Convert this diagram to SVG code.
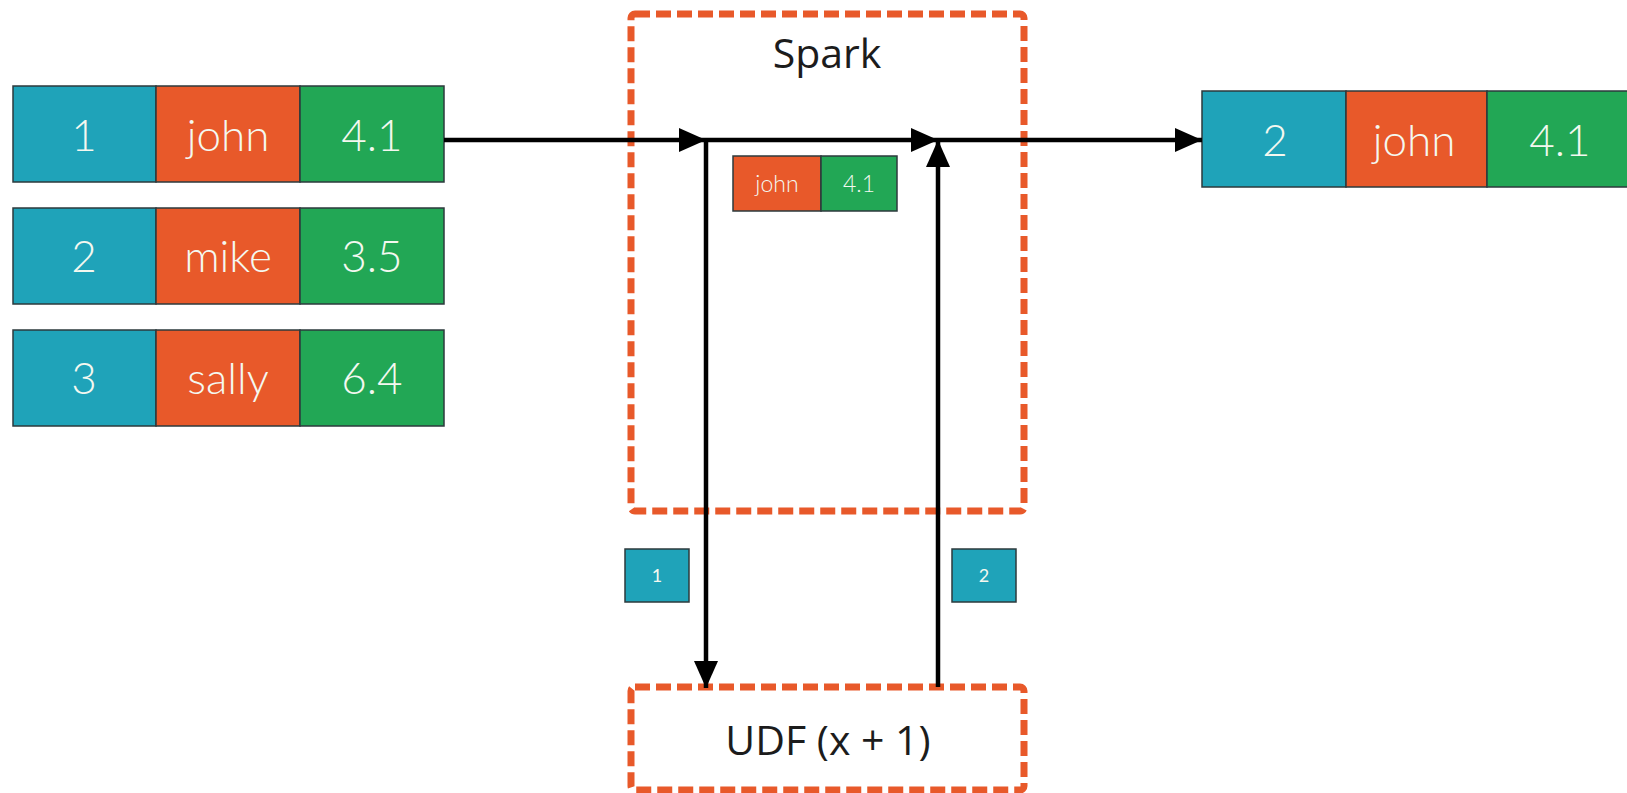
<svg xmlns="http://www.w3.org/2000/svg" width="1627" height="793" viewBox="0 0 1627 793">
<style>
.id{fill:#1FA3B9;stroke:#2d3a3d;stroke-width:1.5}
.nm{fill:#E8592A;stroke:#2d3a3d;stroke-width:1.5}
.vl{fill:#22A755;stroke:#2d3a3d;stroke-width:1.5}
.t{font-family:Lato,"Open Sans",sans-serif;font-weight:300;fill:#F4F8F0;text-anchor:middle}
.big{font-size:44px}
.sm{font-size:23px}
.xs{font-size:18px;font-weight:400}
.box{fill:none;stroke:#E8592A;stroke-width:7;stroke-dasharray:15 6}
.lbl{font-family:"Open Sans","Noto Sans",sans-serif;fill:#1c1c1c;text-anchor:middle;font-size:41px}
.ln{stroke:#000;stroke-width:4.5;fill:none}
</style>
<defs>
<marker id="ah" markerUnits="userSpaceOnUse" markerWidth="28" markerHeight="26" refX="27" refY="12" orient="auto">
<path d="M0,0 L27,12 L0,24 Z" fill="#000"/>
</marker>
</defs>
<g id="row1">
<rect class="id" x="13" y="86" width="143" height="96"/>
<rect class="nm" x="156" y="86" width="144" height="96"/>
<rect class="vl" x="300" y="86" width="144" height="96"/>
<text class="t big" x="84" y="151">1</text>
<text class="t big" x="228" y="151">john</text>
<text class="t big" x="372" y="151">4.1</text>
</g>
<g id="row2">
<rect class="id" x="13" y="208" width="143" height="96"/>
<rect class="nm" x="156" y="208" width="144" height="96"/>
<rect class="vl" x="300" y="208" width="144" height="96"/>
<text class="t big" x="84" y="272">2</text>
<text class="t big" x="228" y="272">mike</text>
<text class="t big" x="372" y="272">3.5</text>
</g>
<g id="row3">
<rect class="id" x="13" y="330" width="143" height="96"/>
<rect class="nm" x="156" y="330" width="144" height="96"/>
<rect class="vl" x="300" y="330" width="144" height="96"/>
<text class="t big" x="84" y="394">3</text>
<text class="t big" x="228" y="394">sally</text>
<text class="t big" x="372" y="394">6.4</text>
</g>
<g id="spark">
<rect class="box" x="631" y="14" width="393" height="497" rx="4"/>
<text class="lbl" x="827" y="68">Spark</text>
</g>
<g id="udf">
<rect class="box" x="631" y="687" width="393" height="103" rx="4"/>
<text class="lbl" x="828" y="755">UDF (x + 1)</text>
</g>
<g id="inner">
<rect class="nm" x="733" y="156" width="88" height="55"/>
<rect class="vl" x="821" y="156" width="76" height="55"/>
<text class="t sm" x="777" y="192">john</text>
<text class="t sm" x="859" y="192">4.1</text>
</g>
<g id="step1">
<rect class="id" x="625" y="549" width="64" height="53"/>
<text class="t xs" x="657" y="582">1</text>
</g>
<g id="step2">
<rect class="id" x="952" y="549" width="64" height="53"/>
<text class="t xs" x="984" y="582">2</text>
</g>
<g id="result">
<rect class="id" x="1202" y="91" width="144" height="96"/>
<rect class="nm" x="1346" y="91" width="141" height="96"/>
<rect class="vl" x="1487" y="91" width="145" height="96"/>
<text class="t big" x="1275" y="156">2</text>
<text class="t big" x="1414" y="156">john</text>
<text class="t big" x="1560" y="156">4.1</text>
</g>
<g id="connectors">
<line class="ln" x1="444" y1="140" x2="706" y2="140" marker-end="url(#ah)"/>
<line class="ln" x1="706" y1="140" x2="938" y2="140" marker-end="url(#ah)"/>
<line class="ln" x1="938" y1="140" x2="1202" y2="140" marker-end="url(#ah)"/>
<line class="ln" x1="706" y1="140" x2="706" y2="688" marker-end="url(#ah)"/>
<line class="ln" x1="938" y1="687" x2="938" y2="140" marker-end="url(#ah)"/>
</g>
</svg>
